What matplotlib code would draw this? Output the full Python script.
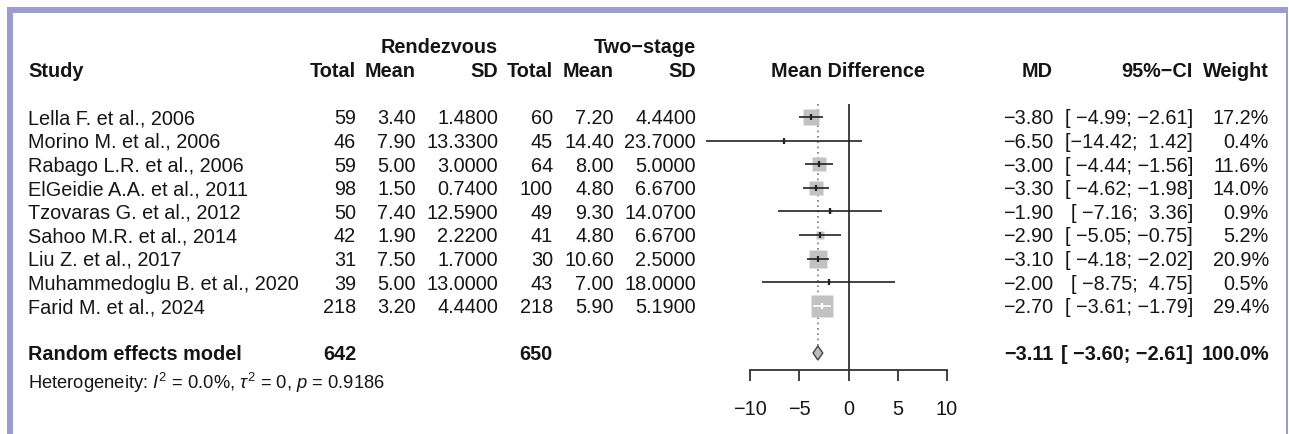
import matplotlib
matplotlib.use("Agg")
import matplotlib.pyplot as plt
from matplotlib.patches import Rectangle, Polygon
import numpy as np

# study-level data
studies = ["Lella F. et al., 2006", "Morino M. et al., 2006", "Rabago L.R. et al., 2006",
           "ElGeidie A.A. et al., 2011", "Tzovaras G. et al., 2012", "Sahoo M.R. et al., 2014",
           "Liu Z. et al., 2017", "Muhammedoglu B. et al., 2020", "Farid M. et al., 2024"]
rv_total = [59, 46, 59, 98, 50, 42, 31, 39, 218]
rv_mean = [3.40, 7.90, 5.00, 1.50, 7.40, 1.90, 7.50, 5.00, 3.20]
rv_sd = [1.48, 13.33, 3.00, 0.74, 12.59, 2.22, 1.70, 13.00, 4.44]
ts_total = [60, 45, 64, 100, 49, 41, 30, 43, 218]
ts_mean = [7.20, 14.40, 8.00, 4.80, 9.30, 4.80, 10.60, 7.00, 5.90]
ts_sd = [4.44, 23.70, 5.00, 6.67, 14.07, 6.67, 2.50, 18.00, 5.19]
md = [-3.80, -6.50, -3.00, -3.30, -1.90, -2.90, -3.10, -2.00, -2.70]
ci_low = [-4.99, -14.42, -4.44, -4.62, -7.16, -5.05, -4.18, -8.75, -3.61]
ci_high = [-2.61, 1.42, -1.56, -1.98, 3.36, -0.75, -2.02, 4.75, -1.79]
weight = [17.2, 0.4, 11.6, 14.0, 0.9, 5.2, 20.9, 0.5, 29.4]

# random effects summary
pooled_total_rv = 642
pooled_total_ts = 650
pooled_md = -3.11
pooled_low = -3.60
pooled_high = -2.61
pooled_weight = 100.0
het_text = r"Heterogeneity: $I^2$ = 0.0%, $\tau^2$ = 0, $p$ = 0.9186"

xticks = [-10, -5, 0, 5, 10]

plt.rcParams['font.family'] = ['Liberation Sans', 'DejaVu Sans']
plt.rcParams['mathtext.fontset'] = 'custom'
plt.rcParams['mathtext.rm'] = 'Liberation Sans'
plt.rcParams['mathtext.it'] = 'Liberation Sans:italic'
plt.rcParams['mathtext.bf'] = 'Liberation Sans:bold'

W, H = 1289, 435
TXT = "#151515"
FS = 14.3


def row_y(px):
    # pixel height -> row units (row 1 centred at 118 px, 23.6 px per row)
    return 1 + (px - 118) / 23.6


def num(v, fmt):
    return format(v, fmt).replace("-", "\u2212")


fig = plt.figure(figsize=(W / 100, H / 100), dpi=100)
fig.patch.set_facecolor("white")

tab = fig.add_axes([0, 0, 1, 1])
tab.set_xlim(0, W)
tab.set_ylim(row_y(H), row_y(0))
tab.axis("off")

# lavender frame
frame_col = "#9c9ccf"
for x0, y0, w, h in [(7, 8, 5.5, H - 8), (7, 8, 1281, 5.5), (1285.5, 8, 2.5, H - 8)]:
    fig.add_artist(Rectangle((x0 / W, 1 - (y0 + h) / H), w / W, h / H,
                             transform=fig.transFigure, color=frame_col, lw=0))

base = 0.27  # baseline offset below row centre


def put(x, r, s, ha="right", bold=False, size=FS):
    tab.text(x, r + base, s, ha=ha, va="baseline", fontsize=size, color=TXT,
             fontweight="bold" if bold else "normal")


# column headers
hdr = row_y(71)
put(498, row_y(47), "Rendezvous", bold=True)
put(696, row_y(47), "Two\u2212stage", bold=True)
put(28, hdr, "Study", ha="left", bold=True)
put(356, hdr, "Total", bold=True)
put(416, hdr, "Mean", bold=True)
put(498, hdr, "SD", bold=True)
put(553, hdr, "Total", bold=True)
put(614, hdr, "Mean", bold=True)
put(696, hdr, "SD", bold=True)
put(848, hdr, "Mean Difference", ha="center", bold=True)
put(1053, hdr, "MD", bold=True)
put(1193, hdr, "95%\u2212CI", bold=True)
put(1269, hdr, "Weight", bold=True)

rows = np.arange(1, len(studies) + 1)
lo_w = max(len(num(v, ".2f")) for v in ci_low + [pooled_low])
hi_w = max(len(num(v, ".2f")) for v in ci_high + [pooled_high])


def ci_str(lo, hi):
    return "[" + num(lo, ".2f").rjust(lo_w) + "; " + num(hi, ".2f").rjust(hi_w) + "]"


for i, r in enumerate(rows):
    put(28, r, studies[i], ha="left")
    put(356, r, str(rv_total[i]))
    put(416, r, num(rv_mean[i], ".2f"))
    put(498, r, num(rv_sd[i], ".4f"))
    put(553, r, str(ts_total[i]))
    put(614, r, num(ts_mean[i], ".2f"))
    put(696, r, num(ts_sd[i], ".4f"))
    put(1053, r, num(md[i], ".2f"))
    put(1193, r, ci_str(ci_low[i], ci_high[i]))
    put(1269, r, num(weight[i], ".1f") + "%")

sum_row = len(studies) + 2
put(28, sum_row, "Random effects model", ha="left", bold=True)
put(356, sum_row, str(pooled_total_rv), bold=True)
put(553, sum_row, str(pooled_total_ts), bold=True)
put(1053, sum_row, num(pooled_md, ".2f"), bold=True)
put(1193, sum_row, ci_str(pooled_low, pooled_high), bold=True)
put(1269, sum_row, num(pooled_weight, ".1f") + "%", bold=True)
put(28, sum_row + 1.2, het_text, ha="left", size=13.2)

# forest panel
ax = fig.add_axes([750 / W, 0, 197 / W, 1])
ax.set_xlim(-10, 10)
ax.set_ylim(row_y(H), row_y(0))
ax.patch.set_alpha(0)
px_per_unit = 197 / 20
top, axis_row = row_y(105), row_y(371)

ax.vlines(0, top, axis_row, color="#333333", lw=1.3)
ax.vlines(pooled_md, top, sum_row - 0.3, color="#777777", lw=1.2, linestyles=(0, (1, 2.2)))

for i, r in enumerate(rows):
    side = 3.9 * np.sqrt(weight[i])  # box side in pixels, area ~ weight
    ax.plot(md[i], r, marker="s", ms=side * 0.72, color="#c2c2c2", mec="none", zorder=2)
    inside = (ci_high[i] - ci_low[i]) * px_per_unit < side
    lc = "white" if inside else "#222222"
    ax.hlines(r, ci_low[i], ci_high[i], color=lc, lw=1.2, zorder=3, clip_on=False)
    ax.plot(md[i], r, marker="|", ms=5, mew=1.6, color=lc, zorder=4)

dh = 0.3
ax.add_patch(Polygon([(pooled_low, sum_row), (pooled_md, sum_row - dh),
                      (pooled_high, sum_row), (pooled_md, sum_row + dh)],
                     closed=True, fc="#bdbdbd", ec="#444444", lw=1.0, zorder=3))

for s in ["top", "left", "right"]:
    ax.spines[s].set_visible(False)
ax.spines["bottom"].set_position(("data", axis_row))
ax.spines["bottom"].set_bounds(-10, 10)
ax.spines["bottom"].set_color("#333333")
ax.spines["bottom"].set_linewidth(1.3)
ax.set_yticks([])
ax.set_xticks(xticks)
ax.set_xticklabels([num(t, "d") for t in xticks])
ax.tick_params(axis="x", direction="out", length=8, width=1.3, color="#333333",
               pad=13, labelsize=FS, labelcolor=TXT)

fig.savefig("out.png", dpi=100, facecolor="white")
